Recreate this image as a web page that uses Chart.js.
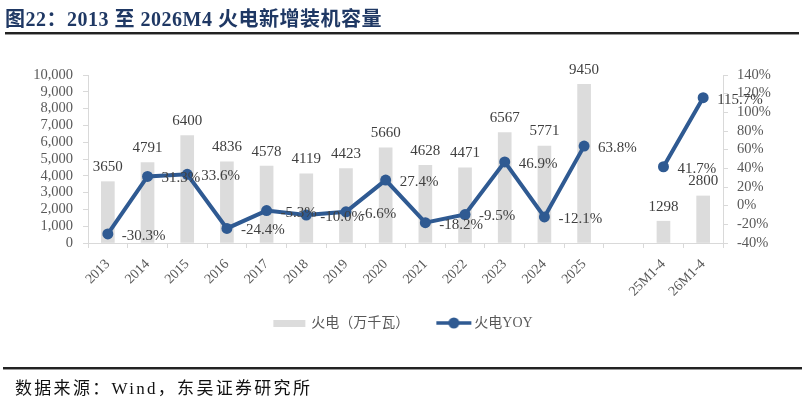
<!DOCTYPE html>
<html>
<head>
<meta charset="utf-8">
<script src="https://cdn.jsdelivr.net/npm/chart.js@4/dist/chart.umd.min.js"></script>
<style>
html,body{margin:0;padding:0;background:#fff;}
#wrap{position:relative;width:805px;height:402px;overflow:hidden;}
#title{position:absolute;left:5px;top:3px;font:bold 20px "Liberation Serif","Noto Sans CJK SC",serif;letter-spacing:0.5px;color:#1f3864;white-space:nowrap;}
#topline{position:absolute;left:5px;top:32px;width:794px;height:2px;background:#222;border-bottom:1px solid #999;}
#botline{position:absolute;left:3px;top:367px;width:799px;height:2px;background:#222;border-bottom:1px solid #999;}
#source{position:absolute;left:15px;top:374px;font:17px "Liberation Serif","Noto Sans CJK SC",serif;letter-spacing:2.3px;color:#111;white-space:nowrap;}
canvas{position:absolute;left:0;top:0;}
</style>
</head>
<body>
<div id="wrap">
<canvas id="c" width="805" height="402"></canvas>
<div id="title">图22：2013 至 2026M4 火电新增装机容量</div>
<div id="topline"></div>
<div id="botline"></div>
<div id="source">数据来源：Wind，东吴证券研究所</div>
</div>
<script>
const categories = ['2013','2014','2015','2016','2017','2018','2019','2020','2021','2022','2023','2024','2025','','25M1-4','26M1-4'];
const capacity = [3650,4791,6400,4836,4578,4119,4423,5660,4628,4471,6567,5771,9450,null,1298,2800];
const yoy = [-30.3,31.3,33.6,-24.4,-5.3,-10.0,-6.6,27.4,-18.2,-9.5,46.9,-12.1,63.8,null,41.7,115.7];
const seriesNames = ['火电（万千瓦）','火电YOY'];

const BAR_COLOR = '#dcdcdc';
const LINE_COLOR = '#2f5a92';
const TICK_COLOR = '#595959';
const AXIS_COLOR = '#d9d9d9';
const SERIF = '"Liberation Serif", "Times New Roman", serif';

// legend icons: drawn centered on (itemX + 24); canvas 120 wide => canvas left = itemX - 36
function makeBarIcon(){
  const c = document.createElement('canvas');
  c.width = 120; c.height = 12;
  const x = c.getContext('2d');
  x.fillStyle = BAR_COLOR; x.fillRect(53,3,32,7);
  return c;
}
function makeLineIcon(){
  const c = document.createElement('canvas');
  c.width = 120; c.height = 12;
  const x = c.getContext('2d');
  x.strokeStyle = LINE_COLOR; x.lineWidth = 3.5;
  x.beginPath(); x.moveTo(53,6); x.lineTo(88,6); x.stroke();
  x.fillStyle = LINE_COLOR; x.beginPath(); x.arc(70.5,6,5.5,0,Math.PI*2); x.fill();
  return c;
}

const labelPlugin = {
  id: 'valueLabels',
  afterDatasetsDraw(chart){
    const ctx = chart.ctx;
    ctx.save();
    ctx.font = '15px ' + SERIF;
    ctx.fillStyle = '#404040';
    const barMeta = chart.getDatasetMeta(0);
    barMeta.data.forEach((el,i)=>{
      if (capacity[i] == null) return;
      ctx.textAlign = 'center'; ctx.textBaseline = 'bottom';
      ctx.fillText(String(capacity[i]), el.x, el.y - 7);
    });
    const lineMeta = chart.getDatasetMeta(1);
    lineMeta.data.forEach((el,i)=>{
      if (yoy[i] == null) return;
      ctx.textAlign = 'left'; ctx.textBaseline = 'middle';
      ctx.fillText(yoy[i].toFixed(1) + '%', el.x + 14, el.y + 2);
    });
    ctx.restore();
  }
};

new Chart(document.getElementById('c'), {
  type: 'bar',
  data: {
    labels: categories,
    datasets: [
      {
        type: 'bar', label: seriesNames[0], data: capacity,
        backgroundColor: BAR_COLOR, barThickness: 13, yAxisID: 'y', order: 2
      },
      {
        type: 'line', label: seriesNames[1], data: yoy,
        borderColor: LINE_COLOR, backgroundColor: LINE_COLOR, borderWidth: 4,
        pointRadius: 5.5, pointBackgroundColor: LINE_COLOR, pointBorderWidth: 0,
        spanGaps: false, tension: 0, yAxisID: 'y1', order: 1
      }
    ]
  },
  options: {
    responsive: false,
    animation: false,
    layout: { padding: { top: 75, left: 0, right: 16, bottom: 62 } },
    plugins: {
      tooltip: { enabled: false },
      legend: {
        position: 'bottom',
        labels: {
          usePointStyle: true,
          pointStyleWidth: 48,
          padding: 10,
          color: TICK_COLOR,
          font: { size: 14, family: SERIF.replace('serif', '"Noto Sans CJK SC", serif') },
          generateLabels(chart){
            return [
              { text: seriesNames[0], pointStyle: makeBarIcon(), fillStyle: BAR_COLOR, strokeStyle: BAR_COLOR, lineWidth: 0, datasetIndex: 0, hidden: false, fontColor: TICK_COLOR },
              { text: seriesNames[1], pointStyle: makeLineIcon(), fillStyle: LINE_COLOR, strokeStyle: LINE_COLOR, lineWidth: 0, datasetIndex: 1, hidden: false, fontColor: TICK_COLOR }
            ];
          }
        }
      }
    },
    scales: {
      x: {
        offset: true,
        grid: { display: true, offset: true, drawOnChartArea: false, color: AXIS_COLOR, tickLength: 5 },
        border: { color: AXIS_COLOR, width: 1 },
        ticks: {
          color: TICK_COLOR, font: { size: 14, family: SERIF },
          minRotation: 45, maxRotation: 45, autoSkip: false, padding: 8
        },
        afterFit(s){ s.height = 63; }
      },
      y: {
        position: 'left', min: 0, max: 10000,
        grid: { drawOnChartArea: false, color: AXIS_COLOR, tickLength: 5 },
        border: { color: AXIS_COLOR, width: 1 },
        ticks: {
          stepSize: 1000, color: TICK_COLOR, padding: 10, autoSkip: false,
          font: { size: 14.5, family: SERIF },
          callback: v => Number(v).toLocaleString('en-US')
        },
        afterFit(s){ s.width = 88; }
      },
      y1: {
        position: 'right', min: -40, max: 140,
        grid: { drawOnChartArea: false, color: AXIS_COLOR, tickLength: 5 },
        border: { color: AXIS_COLOR, width: 1 },
        ticks: {
          stepSize: 20, color: TICK_COLOR, padding: 9, autoSkip: false,
          font: { size: 14.5, family: SERIF },
          callback: v => v + '%'
        },
        afterFit(s){ s.width = 66; }
      }
    }
  },
  plugins: [labelPlugin]
});
</script>
</body>
</html>
